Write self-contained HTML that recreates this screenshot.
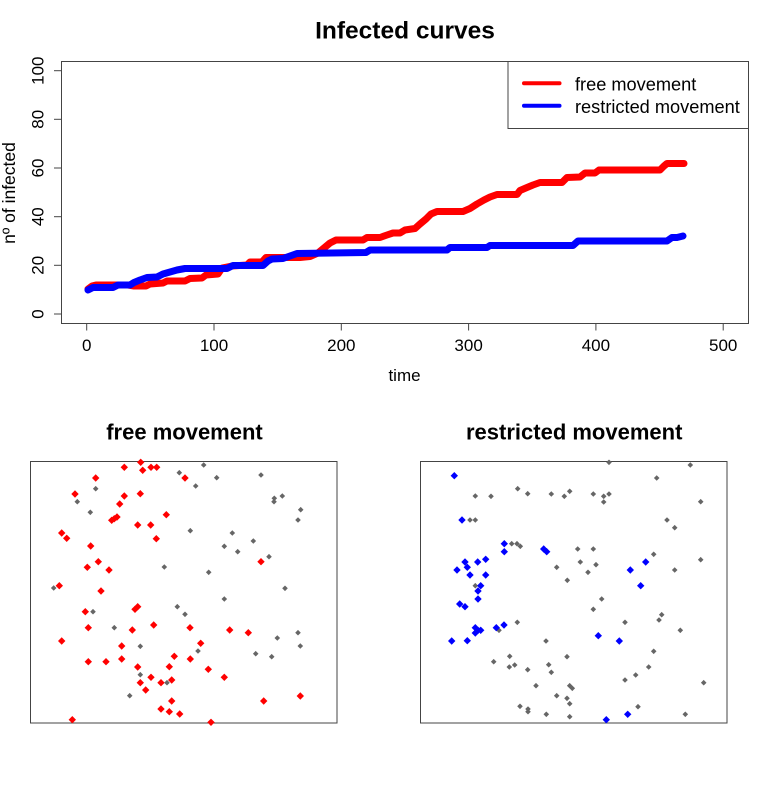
<!DOCTYPE html>
<html><head><meta charset="utf-8"><style>
html,body{margin:0;padding:0;background:#fff;}
svg{display:block;}
text{font-family:"Liberation Sans",Arial,sans-serif;fill:#000;}
</style></head><body>
<svg width="780" height="800" viewBox="0 0 780 800" xmlns="http://www.w3.org/2000/svg">
<defs>
<path id="dr" d="M0,-3.7L3.7,0L0,3.7L-3.7,0Z" fill="#ff0000"/>
<path id="db" d="M0,-3.7L3.7,0L0,3.7L-3.7,0Z" fill="#0000ff"/>
<path id="dg" d="M0,-2.8L2.8,0L0,2.8L-2.8,0Z" fill="#666666"/>
</defs>
<rect width="780" height="800" fill="#fff"/>

<!-- Main title -->
<text x="405" y="38.5" font-size="24.5" font-weight="bold" text-anchor="middle">Infected curves</text>

<!-- plot box -->
<rect x="61.5" y="61.5" width="687" height="262" fill="none" stroke="#444" stroke-width="1"/>

<!-- x ticks -->
<g stroke="#444" stroke-width="1">
<line x1="86.7" y1="323.5" x2="86.7" y2="330.5"/>
<line x1="214" y1="323.5" x2="214" y2="330.5"/>
<line x1="341.3" y1="323.5" x2="341.3" y2="330.5"/>
<line x1="468.6" y1="323.5" x2="468.6" y2="330.5"/>
<line x1="595.9" y1="323.5" x2="595.9" y2="330.5"/>
<line x1="723.2" y1="323.5" x2="723.2" y2="330.5"/>
<line x1="54" y1="314" x2="61.5" y2="314"/>
<line x1="54" y1="265.3" x2="61.5" y2="265.3"/>
<line x1="54" y1="216.7" x2="61.5" y2="216.7"/>
<line x1="54" y1="168" x2="61.5" y2="168"/>
<line x1="54" y1="119.3" x2="61.5" y2="119.3"/>
<line x1="54" y1="70.7" x2="61.5" y2="70.7"/>
</g>
<g font-size="17" text-anchor="middle">
<text x="86.7" y="351">0</text>
<text x="214" y="351">100</text>
<text x="341.3" y="351">200</text>
<text x="468.6" y="351">300</text>
<text x="595.9" y="351">400</text>
<text x="723.2" y="351">500</text>
<text transform="translate(43.5,314) rotate(-90)">0</text>
<text transform="translate(43.5,265.3) rotate(-90)">20</text>
<text transform="translate(43.5,216.7) rotate(-90)">40</text>
<text transform="translate(43.5,168) rotate(-90)">60</text>
<text transform="translate(43.5,119.3) rotate(-90)">80</text>
<text transform="translate(43.5,70.7) rotate(-90)">100</text>
<text x="404.5" y="381">time</text>
<text transform="translate(15,193) rotate(-90)" font-size="17.5">nº of infected</text>
</g>

<!-- red curve -->
<polyline fill="none" stroke="#ff0000" stroke-width="7" stroke-linejoin="round" stroke-linecap="round" points="
88,289 92,286 96,285 128,285 134,286 146,286 150,284 163,283 167,281 185,281 190,278.5 202,278 206,275 218,274 222,268 232,266 247,265 250,262 262,262 266,257.5 300,257.5 310,256.5 318,253 324,248 330,243 336,240 363,240 367,237.5 380,237.5 387,235 393,233 400,233 405,230 415,228.5 420,224 426,219 431,214 437,211.5 463,211.5 470,208.5 477,204 484,200 490,197 497,194.5 517,194.5 520,190.5 527,187.5 533,185 540,182.5 562,182.5 567,177.5 580,177 585,173 595,173 599,170 660,170 664,166 667,163.5 684,163.5"/>
<!-- blue curve -->
<polyline fill="none" stroke="#0000ff" stroke-width="7" stroke-linejoin="round" stroke-linecap="round" points="
88,290 93,287.5 113,287.5 118,285 130,285 134,282.5 140,280 147,277.5 157,277 163,274 170,272 177,270 185,268.5 227,268.5 233,265.5 263,265.5 268,261 272,259 283,258.5 290,256 297,253.5 366,252.5 370,250 447,250 450,247.5 487,247.5 490,245.5 573,245.5 578,241 667,241 672,237.5 677,237.5 683,236"/>

<!-- legend -->
<rect x="508" y="61.5" width="240.5" height="67" fill="#fff" stroke="#444" stroke-width="1"/>
<line x1="524" y1="83.3" x2="559.5" y2="83.3" stroke="#ff0000" stroke-width="4" stroke-linecap="round"/>
<line x1="524" y1="105.7" x2="559.5" y2="105.7" stroke="#0000ff" stroke-width="4" stroke-linecap="round"/>
<text x="575" y="90.5" font-size="18.2">free movement</text>
<text x="575" y="112.8" font-size="18.2">restricted movement</text>

<!-- bottom titles -->
<text x="184.5" y="439.5" font-size="22" font-weight="bold" text-anchor="middle">free movement</text>
<text x="574.2" y="439.5" font-size="22" font-weight="bold" text-anchor="middle">restricted movement</text>

<!-- left panel -->
<rect x="30.5" y="461.5" width="306.5" height="261.5" fill="none" stroke="#444" stroke-width="1"/>
<g>
<use href="#dg" x="203.7" y="465"/><use href="#dg" x="179.3" y="472.7"/><use href="#dg" x="216.7" y="477.7"/>
<use href="#dg" x="261" y="475"/><use href="#dg" x="95.7" y="488.7"/><use href="#dg" x="195.7" y="486"/>
<use href="#dg" x="77.3" y="501.7"/><use href="#dg" x="274.3" y="498.3"/><use href="#dg" x="274" y="501.7"/>
<use href="#dg" x="282.3" y="496"/><use href="#dg" x="300.7" y="509.7"/><use href="#dg" x="298" y="520"/>
<use href="#dg" x="90.3" y="512.3"/><use href="#dg" x="190.3" y="530.7"/><use href="#dg" x="232.3" y="533"/>
<use href="#dg" x="253.3" y="541"/><use href="#dg" x="224.3" y="546.3"/><use href="#dg" x="237.7" y="551.7"/>
<use href="#dg" x="269" y="556.7"/><use href="#dg" x="164.3" y="567"/><use href="#dg" x="208.7" y="572.3"/>
<use href="#dg" x="53.7" y="588"/><use href="#dg" x="285" y="588.3"/><use href="#dg" x="224.3" y="599"/>
<use href="#dg" x="177.3" y="606.7"/><use href="#dg" x="93" y="611.7"/><use href="#dg" x="185" y="614.3"/>
<use href="#dg" x="114.3" y="627.7"/><use href="#dg" x="298" y="632.7"/><use href="#dg" x="277.3" y="638"/>
<use href="#dg" x="300.3" y="646"/><use href="#dg" x="140.3" y="646.3"/><use href="#dg" x="198" y="651"/>
<use href="#dg" x="255.7" y="653.7"/><use href="#dg" x="271.7" y="656.7"/><use href="#dg" x="140.3" y="674.7"/>
<use href="#dg" x="167" y="682.7"/><use href="#dg" x="129.7" y="695.7"/>

<use href="#dr" x="124.3" y="467.3"/><use href="#dr" x="140.7" y="462.3"/><use href="#dr" x="142.7" y="470.3"/>
<use href="#dr" x="151" y="467.3"/><use href="#dr" x="156.7" y="467.3"/><use href="#dr" x="95.7" y="478"/>
<use href="#dr" x="185" y="478"/><use href="#dr" x="75" y="494"/><use href="#dr" x="124.3" y="496"/>
<use href="#dr" x="140.3" y="493.7"/><use href="#dr" x="119.7" y="504"/><use href="#dr" x="166.3" y="514.7"/>
<use href="#dr" x="111.7" y="520.3"/><use href="#dr" x="117" y="517"/><use href="#dr" x="114.3" y="518.7"/>
<use href="#dr" x="137.7" y="525"/><use href="#dr" x="150.7" y="525"/><use href="#dr" x="61.7" y="533"/>
<use href="#dr" x="66.7" y="538.3"/><use href="#dr" x="156.3" y="538.7"/><use href="#dr" x="90.7" y="546"/>
<use href="#dr" x="98.3" y="561.7"/><use href="#dr" x="87.3" y="567.3"/><use href="#dr" x="109" y="570"/>
<use href="#dr" x="261" y="561.7"/>
<use href="#dr" x="59.3" y="585.7"/><use href="#dr" x="101" y="591"/><use href="#dr" x="135" y="609.3"/>
<use href="#dr" x="137.7" y="606.7"/><use href="#dr" x="85.3" y="611.7"/><use href="#dr" x="88.3" y="627.7"/>
<use href="#dr" x="132.3" y="630"/><use href="#dr" x="153.7" y="625"/><use href="#dr" x="190" y="627.7"/>
<use href="#dr" x="229.7" y="630"/><use href="#dr" x="248.3" y="632.7"/><use href="#dr" x="61.7" y="641"/>
<use href="#dr" x="121.7" y="646"/><use href="#dr" x="200.7" y="643.3"/><use href="#dr" x="174.3" y="656.3"/>
<use href="#dr" x="190.3" y="659"/><use href="#dr" x="88.3" y="661.7"/><use href="#dr" x="106" y="661.7"/>
<use href="#dr" x="121.7" y="659"/><use href="#dr" x="137.7" y="667"/><use href="#dr" x="169.3" y="666.7"/>
<use href="#dr" x="208.3" y="669.3"/><use href="#dr" x="224.3" y="677.3"/><use href="#dr" x="151" y="677.3"/>
<use href="#dr" x="140.3" y="682.7"/><use href="#dr" x="161" y="682.7"/><use href="#dr" x="171.7" y="680"/>
<use href="#dr" x="145.7" y="690"/><use href="#dr" x="263.7" y="701"/><use href="#dr" x="300.3" y="696"/>
<use href="#dr" x="171.7" y="701"/><use href="#dr" x="161" y="709"/><use href="#dr" x="169.3" y="711.7"/>
<use href="#dr" x="179.7" y="714"/><use href="#dr" x="72.3" y="719.7"/><use href="#dr" x="211" y="722.3"/>
</g>

<!-- right panel -->
<rect x="420.5" y="461.5" width="306.5" height="261.5" fill="none" stroke="#444" stroke-width="1"/>
<g>
<use href="#dg" x="609" y="462.3"/><use href="#dg" x="690.3" y="465"/><use href="#dg" x="656.7" y="478"/>
<use href="#dg" x="517.7" y="488.7"/><use href="#dg" x="475.3" y="496"/><use href="#dg" x="491" y="496.3"/>
<use href="#dg" x="527.7" y="493.7"/><use href="#dg" x="551.3" y="494"/><use href="#dg" x="564.3" y="496.3"/>
<use href="#dg" x="569.7" y="491.3"/><use href="#dg" x="593.3" y="494"/><use href="#dg" x="603.7" y="496.3"/>
<use href="#dg" x="609" y="494"/><use href="#dg" x="603.7" y="502"/><use href="#dg" x="700.7" y="501.7"/>
<use href="#dg" x="470" y="520"/><use href="#dg" x="475.3" y="520"/><use href="#dg" x="667" y="520"/>
<use href="#dg" x="674.7" y="527.7"/><use href="#dg" x="511.7" y="543.7"/><use href="#dg" x="517" y="543.7"/>
<use href="#dg" x="520.3" y="546.3"/><use href="#dg" x="577.7" y="549"/><use href="#dg" x="593.3" y="549"/>
<use href="#dg" x="653.7" y="554.3"/><use href="#dg" x="700.7" y="559.7"/><use href="#dg" x="580.3" y="562"/>
<use href="#dg" x="596" y="564.7"/><use href="#dg" x="556.7" y="567.3"/><use href="#dg" x="588" y="572.3"/>
<use href="#dg" x="674.7" y="570"/>
<use href="#dg" x="567.3" y="580.3"/><use href="#dg" x="475.3" y="585.7"/><use href="#dg" x="601.7" y="599"/>
<use href="#dg" x="593.3" y="609.3"/><use href="#dg" x="661.7" y="614.7"/><use href="#dg" x="659" y="620"/>
<use href="#dg" x="625" y="622.3"/><use href="#dg" x="517.3" y="622.3"/><use href="#dg" x="499" y="630.3"/>
<use href="#dg" x="680.3" y="630.3"/><use href="#dg" x="546" y="641"/><use href="#dg" x="653.7" y="651.3"/>
<use href="#dg" x="509.7" y="656.3"/><use href="#dg" x="567" y="656.7"/><use href="#dg" x="493.7" y="661.7"/>
<use href="#dg" x="509.3" y="667"/><use href="#dg" x="514.7" y="665"/><use href="#dg" x="527.7" y="669.7"/>
<use href="#dg" x="548.7" y="664.7"/><use href="#dg" x="551.3" y="672.3"/><use href="#dg" x="648.7" y="667"/>
<use href="#dg" x="635.7" y="675"/><use href="#dg" x="625" y="680"/><use href="#dg" x="703.7" y="682.7"/>
<use href="#dg" x="536" y="685.7"/><use href="#dg" x="569.7" y="685.7"/><use href="#dg" x="572.3" y="688.3"/>
<use href="#dg" x="556.7" y="695.7"/><use href="#dg" x="567" y="698.3"/><use href="#dg" x="569.7" y="703.7"/>
<use href="#dg" x="520" y="706.3"/><use href="#dg" x="528" y="709"/><use href="#dg" x="528" y="711.7"/>
<use href="#dg" x="546.3" y="714.3"/><use href="#dg" x="569.7" y="716.7"/><use href="#dg" x="638" y="706.7"/>
<use href="#dg" x="685.3" y="714.3"/>

<use href="#db" x="454.3" y="475.7"/><use href="#db" x="462" y="520"/><use href="#db" x="504.3" y="543.7"/>
<use href="#db" x="504.3" y="551.7"/><use href="#db" x="543.7" y="549"/><use href="#db" x="546.7" y="551.7"/>
<use href="#db" x="465" y="562"/><use href="#db" x="467.3" y="567.3"/><use href="#db" x="477.7" y="562"/>
<use href="#db" x="485.7" y="559.3"/><use href="#db" x="457" y="570"/><use href="#db" x="470" y="575"/>
<use href="#db" x="485.7" y="575"/><use href="#db" x="630.3" y="570"/><use href="#db" x="645.7" y="562"/>
<use href="#db" x="480.7" y="585.7"/><use href="#db" x="478" y="591"/><use href="#db" x="640.7" y="585.7"/>
<use href="#db" x="478" y="599"/><use href="#db" x="459.7" y="604"/><use href="#db" x="465" y="606.7"/>
<use href="#db" x="475.3" y="627.7"/><use href="#db" x="478" y="630.3"/><use href="#db" x="475.3" y="633"/>
<use href="#db" x="480.7" y="630.3"/><use href="#db" x="496.3" y="627.7"/><use href="#db" x="504" y="625"/>
<use href="#db" x="451.7" y="641"/><use href="#db" x="467.3" y="640.7"/><use href="#db" x="598.3" y="635.7"/>
<use href="#db" x="619.3" y="641"/><use href="#db" x="606.3" y="719.7"/><use href="#db" x="627.7" y="714.3"/>
</g>
</svg>
</body></html>
